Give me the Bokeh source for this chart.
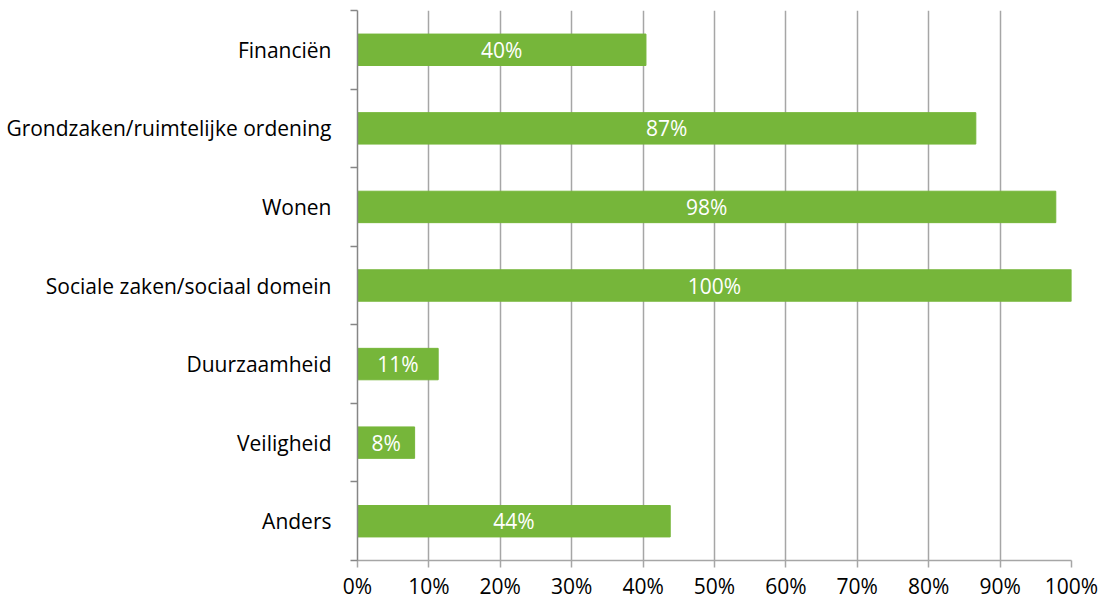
from bokeh.plotting import figure
from bokeh.models import FixedTicker, NumeralTickFormatter, ColumnDataSource, Range1d
from bokeh.core.properties import value
from bokeh.embed import file_html
from bokeh.resources import INLINE

categories = ["Financiën", "Grondzaken/ruimtelijke ordening", "Wonen",
              "Sociale zaken/sociaal domein", "Duurzaamheid", "Veiligheid", "Anders"]
values = [0.404, 0.866, 0.978, 1.0, 0.113, 0.08, 0.438]
x_ticks = [0.0, 0.1, 0.2, 0.3, 0.4, 0.5, 0.6, 0.7, 0.8, 0.9, 1.0]

n = len(categories)
ypos = [n - i - 0.5 for i in range(n)]
labels = [f"{round(v * 100):.0f}%" for v in values]
src = ColumnDataSource(dict(y=ypos, v=values, half=[v / 2 for v in values], lab=labels))

FONT = "Open Sans"
FS = "21px"
GREEN = "#76B63A"
GRID = "#A6A6A6"

p = figure(width=1103, height=602, output_backend="svg", toolbar_location=None,
           x_range=Range1d(0, 1), y_range=Range1d(0, n),
           min_border_left=357, min_border_right=32, min_border_top=10, min_border_bottom=41)
p.outline_line_color = None

p.hbar(y="y", right="v", left=0, height=0.4, source=src, color=GREEN)
p.text(x="half", y="y", text="lab", source=src, text_align="center", text_baseline="middle",
       text_color="white", text_font_size=FS, text_font=value(FONT))

# x axis
p.xaxis.ticker = FixedTicker(ticks=x_ticks)
p.xaxis.formatter = NumeralTickFormatter(format="0%")
p.xaxis.axis_line_color = GRID
p.xaxis.axis_line_width = 1.5
p.xaxis.major_tick_line_color = GRID
p.xaxis.major_tick_line_width = 1.5
p.xaxis.major_tick_out = 7
p.xaxis.major_tick_in = 0
p.xaxis.minor_tick_line_color = None
p.xaxis.major_label_standoff = 4
p.xaxis.major_label_text_font = FONT
p.xaxis.major_label_text_font_size = FS
p.xaxis.major_label_text_color = "#000000"

# y axis
p.yaxis.ticker = FixedTicker(ticks=ypos, minor_ticks=list(range(n + 1)))
p.yaxis.major_label_overrides = {y: c for y, c in zip(ypos, categories)}
p.yaxis.axis_line_color = "#868686"
p.yaxis.axis_line_width = 1.5
p.yaxis.major_tick_line_color = None
p.yaxis.major_tick_out = 0
p.yaxis.major_tick_in = 0
p.yaxis.minor_tick_line_color = "#868686"
p.yaxis.minor_tick_line_width = 1.5
p.yaxis.minor_tick_out = 7
p.yaxis.minor_tick_in = 0
p.yaxis.major_label_standoff = 19
p.yaxis.major_label_text_font = FONT
p.yaxis.major_label_text_font_size = FS
p.yaxis.major_label_text_color = "#000000"

p.xgrid.ticker = FixedTicker(ticks=x_ticks)
p.xgrid.grid_line_color = GRID
p.xgrid.grid_line_width = 1.5
p.ygrid.grid_line_color = None

open("out.html", "w").write(file_html(p, INLINE))
